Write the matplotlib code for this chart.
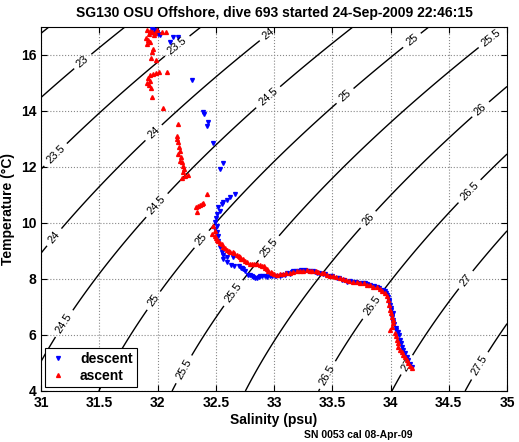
import matplotlib
matplotlib.use('Agg')
import matplotlib.pyplot as plt
import numpy as np

plt.rcParams['font.family'] = ['Liberation Sans', 'DejaVu Sans']
plt.rcParams['font.weight'] = 'bold'

# descent profile (salinity psu, temperature degC)
descent_S = [31.953, 31.979, 31.996, 32.004, 31.961, 32.021, 32.107, 32.133, 32.176,
             32.296, 32.391, 32.399, 32.433, 32.425, 32.476, 32.562, 32.536,
             32.665, 32.622, 32.597, 32.562, 32.554, 32.519, 32.536, 32.511, 32.502,
             32.494, 32.511, 32.494, 32.511, 32.519, 32.519, 32.536, 32.554, 32.562,
             32.597, 32.562, 32.648, 32.60, 32.63, 32.66, 32.70, 32.72,
             32.725, 32.734, 32.751, 32.777, 32.79, 32.811, 32.82, 32.837, 32.85,
             32.87, 32.880, 32.90, 32.923, 32.94, 32.966, 32.98, 33.009, 33.02,
             33.052, 33.07, 33.094, 33.11, 33.137, 33.15, 33.163, 33.19, 33.206,
             33.23, 33.249, 33.27, 33.292, 33.31, 33.335, 33.35, 33.369, 33.39,
             33.421, 33.44, 33.481, 33.50, 33.541, 33.56, 33.584, 33.60, 33.627,
             33.65, 33.678, 33.70, 33.738, 33.76, 33.781, 33.80, 33.824, 33.86,
             33.884, 33.90, 33.936, 33.95, 33.961, 33.97, 33.979, 33.987, 33.99,
             33.996, 34.00, 34.004, 34.01, 34.021, 34.013, 34.02, 34.021, 34.03,
             34.047, 34.05, 34.064, 34.07, 34.082, 34.09, 34.099, 34.11,
             34.124, 34.14, 34.150, 34.17, 34.185]
descent_T = [16.94, 16.90, 16.83, 16.76, 16.80, 16.72, 16.47, 16.65, 16.65,
             15.11, 13.96, 13.89, 13.61, 13.46, 12.85, 12.14, 11.92,
             11.03, 10.92, 10.81, 10.74, 10.67, 10.56, 10.42, 10.31, 10.16,
             10.02, 9.88, 9.77, 9.66, 9.52, 9.34, 9.13, 8.98, 8.87,
             8.77, 8.70, 8.80, 8.62, 8.50, 8.45, 8.47, 8.38,
             8.41, 8.34, 8.27, 8.16, 8.13, 8.09, 8.06, 8.05, 8.03,
             8.07, 8.09, 8.10, 8.09, 8.08, 8.09, 8.10, 8.09, 8.12,
             8.12, 8.15, 8.16, 8.20, 8.19, 8.24, 8.27, 8.28, 8.30,
             8.31, 8.30, 8.31, 8.30, 8.29, 8.27, 8.26, 8.23, 8.22,
             8.19, 8.17, 8.12, 8.10, 8.05, 8.02, 7.98, 7.96, 7.91,
             7.93, 7.91, 7.90, 7.87, 7.86, 7.84, 7.82, 7.80, 7.76,
             7.73, 7.68, 7.62, 7.57, 7.51, 7.44, 7.37, 7.26, 7.18,
             7.08, 6.98, 6.90, 6.72, 6.80, 6.65, 6.55, 6.47, 6.38,
             6.26, 6.18, 6.11, 6.00, 5.83, 5.70, 5.58, 5.48,
             5.36, 5.22, 5.11, 4.98, 4.86]

# ascent profile
ascent_S = [31.910, 31.936, 31.953, 31.979, 31.927, 31.996, 31.970, 32.039, 32.073,
            31.901, 31.919, 31.936, 31.910, 31.961, 31.953, 31.944, 31.987,
            31.936, 31.961, 31.987, 32.013, 31.919, 31.936, 31.927, 31.944, 31.910,
            32.082, 31.953, 32.047,
            32.176, 32.167, 32.167, 32.176, 32.185, 32.193, 32.176, 32.202, 32.193,
            32.210, 32.219, 32.227, 32.219, 32.236, 32.262, 32.210,
            32.425, 32.391, 32.382, 32.365, 32.348, 32.330, 32.339,
            32.476, 32.49, 32.468, 32.494, 32.50, 32.511, 32.52, 32.536, 32.55,
            32.562, 32.58, 32.597, 32.61, 32.622, 32.648, 32.66, 32.682, 32.70,
            32.708, 32.72, 32.734, 32.75, 32.768, 32.79, 32.811, 32.83, 32.854,
            32.88, 32.897, 32.91, 32.923, 32.94, 32.948, 32.97, 32.983, 33.00,
            33.026, 33.05, 33.077, 33.10, 33.137, 33.16, 33.197, 33.22, 33.249,
            33.28, 33.309, 33.33, 33.361, 33.38, 33.412, 33.43, 33.455, 33.48,
            33.506, 33.53, 33.567, 33.59, 33.618, 33.64, 33.678, 33.71, 33.738,
            33.77, 33.798, 33.82, 33.850, 33.88, 33.910, 33.93, 33.953, 33.97,
            33.979, 33.99, 33.996, 34.00, 34.013, 34.02, 34.021, 34.01, 33.996,
            34.039, 34.05, 34.056, 34.06, 34.064, 34.08, 34.099, 34.11,
            34.124, 34.14, 34.150, 34.17, 34.185]
ascent_T = [16.90, 16.87, 16.83, 16.80, 16.76, 16.90, 16.72, 16.83, 16.83,
            16.62, 16.54, 16.47, 16.40, 16.22, 16.11, 15.90, 15.83,
            15.29, 15.33, 15.36, 15.40, 15.18, 15.08, 14.93, 14.82, 15.01,
            15.40, 14.50, 14.11,
            13.53, 13.10, 13.00, 12.89, 12.71, 12.57, 12.46, 12.35, 12.21,
            12.17, 12.03, 11.92, 11.81, 11.67, 11.71, 11.60,
            11.03, 10.70, 10.67, 10.63, 10.59, 10.56, 10.38,
            9.88, 9.70, 9.59, 9.52, 9.47, 9.41, 9.36, 9.30, 9.24,
            9.16, 9.10, 9.05, 9.01, 8.98, 8.95, 8.92, 8.87, 8.82,
            8.77, 8.73, 8.70, 8.64, 8.59, 8.55, 8.52, 8.52, 8.52,
            8.50, 8.48, 8.45, 8.41, 8.35, 8.30, 8.26, 8.23, 8.19,
            8.16, 8.17, 8.19, 8.21, 8.23, 8.25, 8.27, 8.29, 8.30,
            8.31, 8.30, 8.28, 8.27, 8.25, 8.23, 8.20, 8.16, 8.12,
            8.09, 8.07, 8.05, 8.01, 7.98, 7.94, 7.91, 7.89, 7.87,
            7.84, 7.80, 7.78, 7.73, 7.70, 7.66, 7.58, 7.51, 7.40,
            7.26, 7.08, 6.90, 6.80, 6.65, 6.55, 6.44, 6.30, 6.19,
            6.08, 5.95, 5.83, 5.70, 5.58, 5.48, 5.40, 5.30,
            5.22, 5.10, 5.00, 4.90, 4.82]

sigma_levels = np.arange(22.5, 28.01, 0.5)

# potential density anomaly, EOS-80 at surface pressure
def sigma0(S, T):
    rho_w = (999.842594 + 6.793952e-2 * T - 9.095290e-3 * T**2 + 1.001685e-4 * T**3
             - 1.120083e-6 * T**4 + 6.536332e-9 * T**5)
    A = 0.824493 - 4.0899e-3 * T + 7.6438e-5 * T**2 - 8.2467e-7 * T**3 + 5.3875e-9 * T**4
    B = -5.72466e-3 + 1.0227e-4 * T - 1.6546e-6 * T**2
    return rho_w + A * S + B * S**1.5 + 4.8314e-4 * S**2 - 1000.0

fig = plt.figure(figsize=(5.19, 4.42), dpi=100)
ax = fig.add_axes([0.079, 0.1154, 0.898, 0.8236])

sg, tg = np.meshgrid(np.linspace(31, 35, 300), np.linspace(4, 17, 300))
cs = ax.contour(sg, tg, sigma0(sg, tg), levels=sigma_levels, colors='k', linewidths=1.0)
label_pos = [(31.318, 15.97), (32.167, 16.33), (32.940, 16.83), (33.609, 14.54),
             (34.125, 16.83), (34.871, 16.58), (31.034, 12.82), (31.961, 13.25),
             (32.940, 14.54), (34.794, 13.96),
             (31.034, 9.77), (32.005, 10.59), (32.382, 9.41), (32.940, 9.16),
             (33.824, 10.06), (34.837, 10.49), (31.120, 6.62), (31.858, 7.55),
             (32.236, 4.75), (32.751, 7.19), (33.850, 7.01), (34.185, 4.82),
             (34.828, 7.37), (34.837, 4.72), (33.472, 4.54)]
lbls = ax.clabel(cs, manual=label_pos, fmt='%g', fontsize=8, inline=True)
for t in lbls:
    t.set_fontweight('normal')

ax.plot(descent_S, descent_T, 'v', color='#0000ff', markersize=2.8, label='descent', zorder=3)
ax.plot(ascent_S, ascent_T, '^', color='#ff0000', markersize=2.8, label='ascent', zorder=4)

ax.set_xlim(31, 35)
ax.set_ylim(4, 17)
ax.set_xticks(np.arange(31, 35.01, 0.5))
ax.set_xticklabels(['31', '31.5', '32', '32.5', '33', '33.5', '34', '34.5', '35'])
ax.set_yticks(np.arange(4, 17, 2))
ax.tick_params(direction='in', top=True, right=True, labelsize=10, length=4)
for lab in ax.get_xticklabels() + ax.get_yticklabels():
    lab.set_fontweight('bold')
ax.grid(True, linestyle=':', color='#888888', linewidth=0.8)

ax.set_xlabel('Salinity (psu)', fontsize=10, fontweight='bold', labelpad=2)
ax.set_ylabel('Temperature (°C)', fontsize=10, fontweight='bold', labelpad=4)
ax.set_title('SG130 OSU Offshore, dive 693 started 24-Sep-2009 22:46:15',
             fontsize=10, fontweight='bold', pad=7)
fig.text(0.586, 0.008, 'SN 0053 cal 08-Apr-09', fontsize=7.5, fontweight='bold')

leg = ax.legend(loc='lower left', numpoints=1, fontsize=10, fancybox=False,
                edgecolor='k', framealpha=1, borderaxespad=0.3, handlelength=1.2,
                handletextpad=1.0, borderpad=0.3, labelspacing=0.2)
leg.get_frame().set_linewidth(0.8)

plt.savefig('out.png', dpi=100)
